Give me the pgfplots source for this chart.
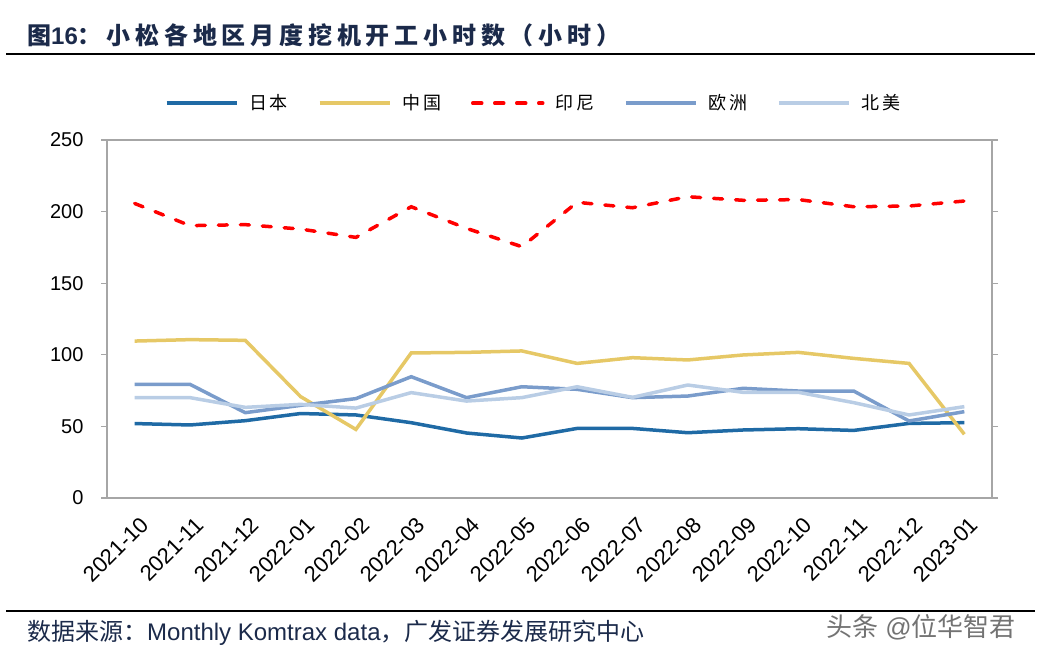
\documentclass[border=0pt]{standalone}
\usepackage{pgfplots}
\pgfplotsset{compat=1.18}
\usepackage{fontspec}
\setmainfont{Liberation Sans}
\newfontfamily\cjk{Noto Sans CJK SC}
\newfontfamily\cjkt[LetterSpace=20]{Noto Sans CJK SC}
\newfontfamily\cjkl[LetterSpace=14]{Noto Sans CJK SC}
\definecolor{navy}{HTML}{1B2A4A}
\definecolor{cJP}{HTML}{1F6AA5}
\definecolor{cCN}{HTML}{E6C866}
\definecolor{cID}{HTML}{FF0000}
\definecolor{cEU}{HTML}{7A9CCB}
\definecolor{cNA}{HTML}{B9CDE5}
\definecolor{axgray}{HTML}{A6A6A6}
\begin{document}
\begin{tikzpicture}
\useasboundingbox (0pt,0pt) rectangle (1041pt,-657pt);
% title
\node[anchor=west,inner sep=0pt,text=navy,font=\fontsize{24}{26}\selectfont\bfseries] at (27pt,-35pt) {{\cjk 图}16{\cjkt ：小松各地区月度挖机开工小时数（小时）}};
\draw[line width=2.5pt] (6pt,-54pt) -- (1035pt,-54pt);
\draw[line width=2.5pt] (6pt,-611pt) -- (1035pt,-611pt);
\node[anchor=west,inner sep=0pt,text=navy,font=\fontsize{24}{26}\selectfont] at (27pt,-633pt) {{\cjk 数据来源：}Monthly Komtrax data{\cjk ，广发证券发展研究中心}};
\node[anchor=west,inner sep=0pt,text=black!55,font=\fontsize{26}{28}\selectfont] at (826pt,-627pt) {{\cjk 头条} @{\cjk 位华智君}};
\begin{axis}[
  at={(107pt,-498pt)}, anchor=south west,
  scale only axis, width=885pt, height=358pt,
  xmin=-0.5, xmax=15.5, ymin=0, ymax=250,
  xtick={0,...,15},
  xticklabels={2021-10,2021-11,2021-12,2022-01,2022-02,2022-03,2022-04,2022-05,2022-06,2022-07,2022-08,2022-09,2022-10,2022-11,2022-12,2023-01},
  ytick={0,50,...,250},
  axis line style={draw=axgray, line width=1.3pt},
  y tick style={draw=axgray, line width=1.3pt},
  x tick style={draw=none},
  tick align=outside, major tick length=6pt,
  yticklabel style={font=\fontsize{20}{22}\selectfont, xshift=-14pt},
  /pgf/number format/assume math mode=true,
  xticklabel style={font=\fontsize{22}{24}\selectfont, rotate=45, anchor=east, inner sep=0pt, xshift=-5pt, yshift=-19pt},
  legend columns=5,
  legend style={draw=none, fill=none, at={(0.4808,1.103)}, anchor=center,
    font=\fontsize{18}{20}\selectfont\cjkl, nodes={inner sep=0pt},
    /tikz/every odd column/.append style={column sep=11pt},
    /tikz/every even column/.append style={column sep=30pt}},
  legend image code/.code={\draw[#1] (0pt,0pt) -- (70pt,0pt);},
  every axis plot/.append style={line width=3.5pt},
]
\addplot[cJP] coordinates {(0,52)(1,51)(2,54)(3,59)(4,58)(5,52.6)(6,45.4)(7,41.9)(8,48.6)(9,48.6)(10,45.6)(11,47.5)(12,48.4)(13,47.2)(14,52.1)(15,52.6)};
\addlegendentry{日本}
\addplot[cCN] coordinates {(0,109.6)(1,110.6)(2,110.1)(3,70.8)(4,47.9)(5,101.3)(6,101.7)(7,102.7)(8,94)(9,98)(10,96.4)(11,99.9)(12,101.7)(13,97.5)(14,94)(15,44.5)};
\addlegendentry{中国}
\addplot[cID, line cap=round, dash pattern=on 9pt off 13pt] coordinates {(0,205.7)(1,190.2)(2,190.9)(3,187.8)(4,182)(5,203.4)(6,188.3)(7,175.5)(8,206.5)(9,202.7)(10,210.4)(11,207.9)(12,208.4)(13,203.4)(14,203.9)(15,207.4)};
\addlegendentry{印尼}
\addplot[cEU] coordinates {(0,79.4)(1,79.4)(2,59.6)(3,64.7)(4,69.4)(5,84.7)(6,70.1)(7,77.7)(8,75.9)(9,70.1)(10,71.2)(11,76.6)(12,74.7)(13,74.7)(14,53.8)(15,60.3)};
\addlegendentry{欧洲}
\addplot[cNA] coordinates {(0,70.1)(1,70.1)(2,63.3)(3,65.4)(4,62.8)(5,73.6)(6,67.7)(7,70.1)(8,77.7)(9,70.3)(10,78.9)(11,73.8)(12,73.8)(13,66.6)(14,58)(15,63.8)};
\addlegendentry{北美}
\end{axis}
\end{tikzpicture}
\end{document}
